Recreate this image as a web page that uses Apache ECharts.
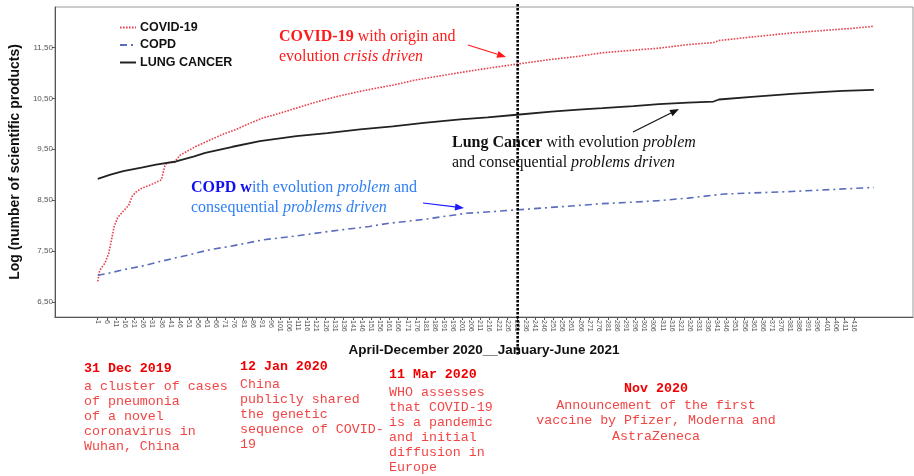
<!DOCTYPE html>
<html>
<head>
<meta charset="utf-8">
<script src="https://cdn.jsdelivr.net/npm/echarts@6/dist/echarts.min.js"></script>
<style>
  html, body { margin: 0; padding: 0; background: #fff; }
  #chart { width: 914px; height: 476px; }
</style>
</head>
<body>
<div id="chart"></div>
<script>
// day index of the series (x) and log of scientific products (y)
const covidDays = [1, 2, 3, 5, 7, 8, 10, 12, 15, 18, 20, 22, 25, 30, 36, 37, 38, 40, 43, 46, 50, 55, 60, 70, 77, 85, 92, 100, 110, 120, 127, 135, 145, 155, 164, 175, 190, 205, 220, 232, 250, 265, 278, 295, 309, 325, 339, 342, 360, 382, 400, 415, 427]
const covidValues = [6.90, 7.10, 7.17, 7.26, 7.45, 7.62, 7.98, 8.16, 8.28, 8.40, 8.58, 8.66, 8.73, 8.80, 8.90, 8.92, 9.20, 9.24, 9.24, 9.38, 9.46, 9.56, 9.64, 9.80, 9.89, 10.02, 10.12, 10.20, 10.31, 10.42, 10.49, 10.56, 10.64, 10.71, 10.77, 10.86, 10.95, 11.04, 11.12, 11.18, 11.27, 11.33, 11.40, 11.45, 11.49, 11.56, 11.60, 11.64, 11.71, 11.79, 11.84, 11.88, 11.92]

const lungDays = [1, 8, 15, 25, 33, 44, 54, 60, 75, 90, 110, 127, 145, 163, 180, 200, 215, 231, 250, 265, 278, 295, 309, 325, 339, 342, 360, 382, 400, 410, 427]
const lungValues = [8.92, 9.00, 9.07, 9.14, 9.20, 9.26, 9.36, 9.43, 9.55, 9.66, 9.76, 9.82, 9.89, 9.95, 10.02, 10.09, 10.13, 10.18, 10.24, 10.28, 10.31, 10.35, 10.39, 10.42, 10.44, 10.48, 10.53, 10.59, 10.63, 10.65, 10.67]

const copdDays = [1, 8, 15, 25, 33, 42, 52, 62, 75, 92, 109, 125, 136, 150, 160, 180, 203, 220, 232, 255, 278, 295, 309, 325, 345, 360, 382, 405, 427]
const copdValues = [7.02, 7.07, 7.13, 7.20, 7.27, 7.35, 7.43, 7.52, 7.60, 7.72, 7.79, 7.87, 7.92, 7.98, 8.04, 8.12, 8.24, 8.28, 8.31, 8.37, 8.43, 8.46, 8.49, 8.54, 8.62, 8.64, 8.67, 8.71, 8.75]

// tick labels
const xTickDays = Array.from({ length: 84 }, (_, i) => 1 + 5 * i)
const yTicks = [6.5, 7.5, 8.5, 9.5, 10.5, 11.5]

// day that separates 2020 from 2021 (dotted vertical line)
const boundaryDay = 231.5

const seriesNames = ['COVID-19', 'COPD', 'LUNG CANCER']

const bottomNotes = [
  { date: '31 Dec 2019', lines: ['a cluster of cases', 'of pneumonia', 'of a novel', 'coronavirus in', 'Wuhan, China'] },
  { date: '12 Jan 2020', lines: ['China', 'publicly shared', 'the genetic', 'sequence of COVID-', '19'] },
  { date: '11 Mar 2020', lines: ['WHO assesses', 'that COVID-19', 'is a pandemic', 'and initial', 'diffusion in', 'Europe'] },
  { date: 'Nov 2020', lines: ['Announcement of the first', 'vaccine by Pfizer, Moderna and', 'AstraZeneca'] }
]

const pairs = (xs, ys) => xs.map((x, i) => [x, ys[i]])

const chart = echarts.init(document.getElementById('chart'))

const sans = '"Liberation Sans", Arial, sans-serif'
const serif = '"Liberation Serif", "Times New Roman", serif'
const mono = '"Liberation Mono", "Courier New", monospace'

chart.setOption({
  animation: false,
  backgroundColor: '#fff',
  grid: {
    left: 51, right: 1, top: 7, bottom: 159,
    show: true, borderColor: '#9a9a9a', borderWidth: 1
  },
  legend: {
    data: seriesNames,
    orient: 'vertical',
    left: 119, top: 21, padding: 0,
    itemWidth: 16, itemHeight: 12, itemGap: 4.5,
    itemStyle: { opacity: 0 },
    textStyle: { fontFamily: sans, fontWeight: 'bold', fontSize: 12.5, color: '#111', padding: [0, 0, 0, -1] }
  },
  xAxis: {
    type: 'value',
    min: -22.5, max: 448.5,
    name: 'April-December 2020__January-June 2021',
    nameLocation: 'middle',
    nameGap: 26,
    nameTextStyle: { fontFamily: sans, fontWeight: 'bold', fontSize: 13.5, color: '#111' },
    axisLine: { show: true, onZero: false, lineStyle: { color: '#555', width: 1 } },
    axisTick: { show: true, customValues: xTickDays, length: 3, lineStyle: { color: '#555' } },
    axisLabel: { customValues: xTickDays, rotate: -90, fontSize: 7, fontFamily: sans, color: '#555', margin: 3 },
    splitLine: { show: false }
  },
  yAxis: {
    type: 'value',
    min: 6.2, max: 12.3,
    name: 'Log (number of scientific products)',
    nameLocation: 'middle',
    nameGap: 29,
    nameTextStyle: { fontFamily: sans, fontWeight: 'bold', fontSize: 14, color: '#111' },
    axisLine: { show: true, onZero: false, lineStyle: { color: '#555', width: 1 } },
    axisTick: { show: true, customValues: yTicks, length: 3, lineStyle: { color: '#555' } },
    axisLabel: {
      customValues: yTicks, fontSize: 8, fontFamily: sans, color: '#555', margin: 2,
      formatter: v => v.toFixed(2).replace('.', ',')
    },
    splitLine: { show: false }
  },
  series: [
    {
      name: 'COVID-19', type: 'line', symbol: 'none',
      data: pairs(covidDays, covidValues),
      lineStyle: { color: '#e8404c', width: 1.6, type: [1.6, 1.4] },
      itemStyle: { color: '#e8404c' }
    },
    {
      name: 'COPD', type: 'line', symbol: 'none',
      data: pairs(copdDays, copdValues),
      lineStyle: { color: '#5a6cbc', width: 1.6, type: [7, 4, 2, 4] },
      itemStyle: { color: '#5a6cbc' }
    },
    {
      name: 'LUNG CANCER', type: 'line', symbol: 'none',
      data: pairs(lungDays, lungValues),
      lineStyle: { color: '#222', width: 1.8 },
      itemStyle: { color: '#222' }
    }
  ]
})

// annotation helpers
function arrow(x1, y1, x2, y2, color) {
  const a = Math.atan2(y2 - y1, x2 - x1)
  const L = 9, W = 3.5
  const bx = x2 - L * Math.cos(a), by = y2 - L * Math.sin(a)
  return {
    type: 'group', z: 20,
    children: [
      { type: 'line', shape: { x1, y1, x2: bx, y2: by }, style: { stroke: color, lineWidth: 1.2 } },
      {
        type: 'polygon',
        shape: { points: [[x2, y2], [bx - W * Math.sin(a), by + W * Math.cos(a)], [bx + W * Math.sin(a), by - W * Math.cos(a)]] },
        style: { fill: color }
      }
    ]
  }
}

function richText(x, y, text, color, rich) {
  return {
    type: 'text', x, y, z: 20,
    style: { text, fill: color, fontFamily: serif, fontSize: 16, lineHeight: 20, rich }
  }
}

function note(x, dateY, bodyY, n, align, step) {
  const out = [{
    type: 'text', x, y: dateY, z: 20,
    style: { text: n.date, fill: '#f00000', fontFamily: mono, fontWeight: 'bold', fontSize: 13.3, align, verticalAlign: 'middle' }
  }]
  n.lines.forEach((t, i) => out.push({
    type: 'text', x, y: bodyY + i * step, z: 20,
    style: { text: t, fill: '#f24545', fontFamily: mono, fontSize: 13.3, align, verticalAlign: 'middle' }
  }))
  return out
}

const bx = chart.convertToPixel({ xAxisIndex: 0 }, boundaryDay)

const graphics = [
  {
    type: 'line', z: 30,
    shape: { x1: bx, y1: 4, x2: bx, y2: 356 },
    style: { stroke: '#000', lineWidth: 2.6, lineDash: [2.4, 1.6] }
  },
  richText(279, 27, '{b|COVID-19} {n|with origin and}\n{n|evolution }{i|crisis driven}', '#ff1a1a', {
    b: { fontWeight: 'bold', fontFamily: serif, fontSize: 16, fill: '#ff1a1a', lineHeight: 20 },
    n: { fontFamily: serif, fontSize: 16, fill: '#ff1a1a', lineHeight: 20 },
    i: { fontStyle: 'italic', fontFamily: serif, fontSize: 16, fill: '#ff1a1a', lineHeight: 20 }
  }),
  arrow(468, 45, 506, 57, '#ff1a1a'),
  richText(452, 133, '{b|Lung Cancer} {n|with evolution }{i|problem}\n{n|and consequential }{i|problems driven}', '#111', {
    b: { fontWeight: 'bold', fontFamily: serif, fontSize: 16, fill: '#111', lineHeight: 20 },
    n: { fontFamily: serif, fontSize: 16, fill: '#111', lineHeight: 20 },
    i: { fontStyle: 'italic', fontFamily: serif, fontSize: 16, fill: '#111', lineHeight: 20 }
  }),
  arrow(633, 132, 679, 109, '#111'),
  richText(191, 178, '{b|COPD w}{n|ith evolution }{i|problem}{n| and}\n{n|consequential }{i|problems driven}', '#2f7ff5', {
    b: { fontWeight: 'bold', fontFamily: serif, fontSize: 16, fill: '#1010ee', lineHeight: 20 },
    n: { fontFamily: serif, fontSize: 16, fill: '#2f7ff5', lineHeight: 20 },
    i: { fontStyle: 'italic', fontFamily: serif, fontSize: 16, fill: '#2f7ff5', lineHeight: 20 }
  }),
  arrow(423, 203, 464, 208, '#1a1aff'),
  ...note(84, 369, 386, bottomNotes[0], 'left', 15),
  ...note(240, 367, 384, bottomNotes[1], 'left', 15),
  ...note(389, 375, 392, bottomNotes[2], 'left', 15),
  ...note(656, 389, 405, bottomNotes[3], 'center', 15.5)
]

chart.setOption({ graphic: graphics })
</script>
</body>
</html>
